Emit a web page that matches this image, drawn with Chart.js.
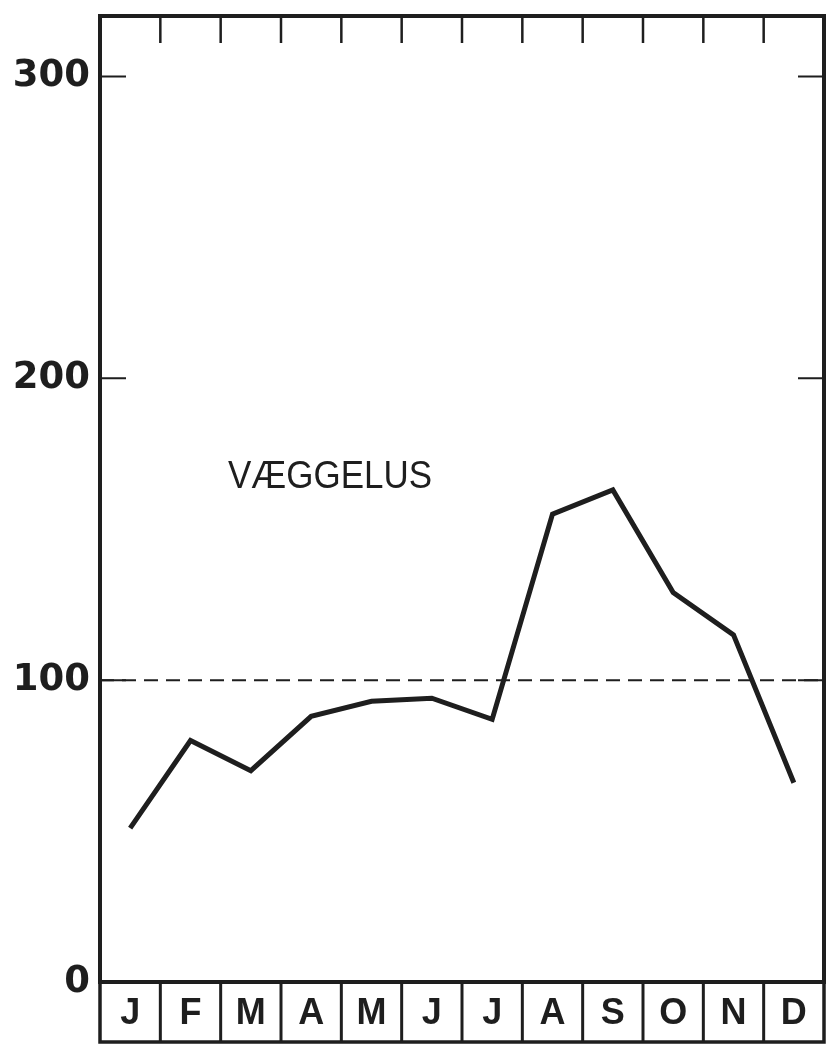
<!DOCTYPE html>
<html>
<head>
<meta charset="utf-8">
<script src="https://cdn.jsdelivr.net/npm/chart.js@4"></script>
<style>
html,body{margin:0;padding:0;background:#fff;}
canvas{display:block;}
</style>
</head>
<body>
<canvas id="c" width="837" height="1064"></canvas>
<script>
const months = ['J','F','M','A','M','J','J','A','S','O','N','D'];
const values = [51, 80, 70, 88, 93, 94, 87, 155, 163, 129, 115, 66];
const yTicks = [0, 100, 200, 300];
const yMax = 320;
const referenceLevel = 100;
const seriesLabel = 'VÆGGELUS';

const INK = '#1e1e1e';

const framePlugin = {
  id: 'frame',
  beforeDatasetsDraw(chart) {
    const {ctx, chartArea: a, scales: {y}} = chart;
    const yr = y.getPixelForValue(referenceLevel);
    ctx.save();
    ctx.strokeStyle = INK;
    ctx.lineWidth = 2;
    ctx.setLineDash([14, 8]);
    ctx.beginPath();
    ctx.moveTo(a.left, yr);
    ctx.lineTo(a.right, yr);
    ctx.stroke();
    ctx.restore();
  },
  afterDatasetsDraw(chart) {
    const {ctx, chartArea: a, scales: {x, y}} = chart;
    const n = months.length;
    const w = (a.right - a.left) / n;
    ctx.save();
    ctx.strokeStyle = INK;
    ctx.setLineDash([]);
    ctx.lineWidth = 4;
    ctx.strokeRect(a.left, a.top, a.right - a.left, a.bottom - a.top);
    ctx.lineWidth = 2.5;
    for (let i = 1; i < n; i++) {
      const bx = x.getPixelForValue(i) - w / 2;
      ctx.beginPath();
      ctx.moveTo(bx, a.top);
      ctx.lineTo(bx, a.top + 27);
      ctx.stroke();
    }
    ctx.lineWidth = 2;
    yTicks.forEach(v => {
      if (v === 0) return;
      const py = y.getPixelForValue(v);
      ctx.beginPath();
      ctx.moveTo(a.left, py); ctx.lineTo(a.left + 26, py);
      ctx.moveTo(a.right, py); ctx.lineTo(a.right - 26, py);
      ctx.stroke();
    });
    const rowTop = a.bottom;
    const rowBottom = a.bottom + 60;
    ctx.lineWidth = 3.5;
    ctx.strokeRect(a.left, rowTop, a.right - a.left, rowBottom - rowTop);
    ctx.lineWidth = 3;
    for (let i = 1; i < n; i++) {
      const bx = x.getPixelForValue(i) - w / 2;
      ctx.beginPath();
      ctx.moveTo(bx, rowTop);
      ctx.lineTo(bx, rowBottom);
      ctx.stroke();
    }
    ctx.fillStyle = INK;
    ctx.font = '38px "Liberation Sans", Arial, sans-serif';
    ctx.textBaseline = 'alphabetic';
    const tw = ctx.measureText(seriesLabel).width;
    const target = 204;
    ctx.translate(228, 488);
    ctx.scale(target / tw, 1);
    ctx.fillText(seriesLabel, 0, 0);
    ctx.restore();
  }
};

new Chart(document.getElementById('c'), {
  type: 'line',
  data: {
    labels: months,
    datasets: [{
      label: seriesLabel,
      data: values,
      borderColor: INK,
      borderWidth: 5,
      pointRadius: 0,
      tension: 0,
      fill: false,
      borderJoinStyle: 'miter'
    }]
  },
  options: {
    responsive: false,
    animation: false,
    devicePixelRatio: 1,
    layout: {padding: {left: 0, top: 16, right: 13, bottom: 0}},
    plugins: {legend: {display: false}, tooltip: {enabled: false}},
    scales: {
      x: {
        type: 'category',
        offset: true,
        grid: {display: false, drawTicks: false},
        border: {display: false},
        ticks: {
          color: INK,
          padding: 10,
          maxRotation: 0,
          autoSkip: false,
          font: {family: '"Liberation Sans", Arial, sans-serif', size: 36, weight: 'bold'}
        },
        afterFit(s) { s.height = 82; }
      },
      y: {
        min: 0,
        max: yMax,
        grid: {display: false, drawTicks: false},
        border: {display: false},
        afterBuildTicks(s) { s.ticks = yTicks.map(v => ({value: v})); },
        ticks: {
          color: INK,
          padding: 10,
          font: {family: '"DejaVu Sans", sans-serif', size: 37, weight: 'bold'},
          callback: v => String(v)
        },
        afterFit(s) { s.width = 100; s.paddingTop = 0; s.paddingBottom = 0; }
      }
    }
  },
  plugins: [framePlugin]
});
</script>
</body>
</html>
